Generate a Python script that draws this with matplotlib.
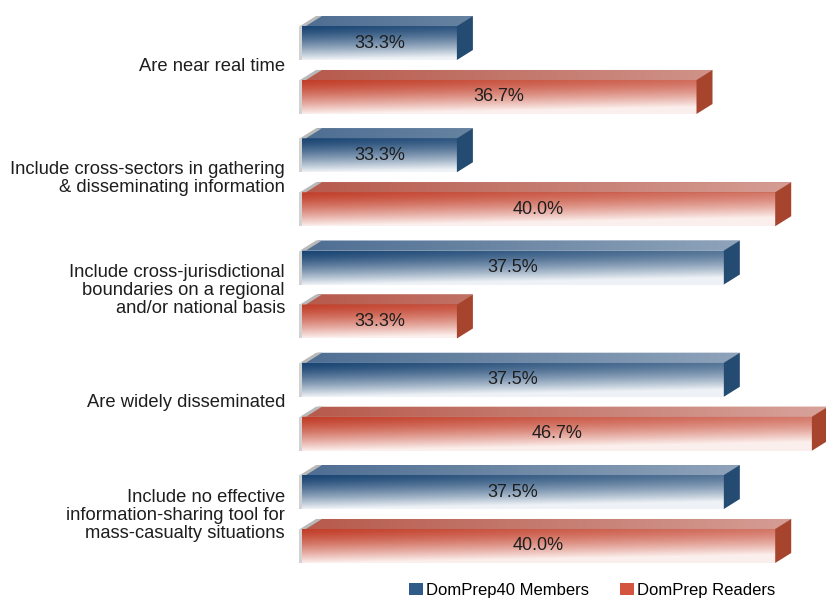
import numpy as np
import matplotlib
matplotlib.use("Agg")
import matplotlib.pyplot as plt
from matplotlib.patches import Polygon, Patch
from matplotlib.transforms import IdentityTransform
from matplotlib.colors import to_rgb

# ---------------- data ----------------
categories = [
    "Are near real time",
    "Include cross-sectors in gathering\n& disseminating information",
    "Include cross-jurisdictional\nboundaries on a regional\nand/or national basis",
    "Are widely disseminated",
    "Include no effective\ninformation-sharing tool for\nmass-casualty situations",
]
members = [33.3, 33.3, 37.5, 37.5, 37.5]
readers = [36.7, 40.0, 33.3, 46.7, 40.0]
series_names = ["DomPrep40 Members", "DomPrep Readers"]

# ---------------- style ----------------
plt.rcParams['font.family'] = ['Liberation Sans', 'DejaVu Sans']
W, H = 826, 598
fig = plt.figure(figsize=(W / 100, H / 100), dpi=100)

BLUE_DARK, BLUE_LIGHT = to_rgb('#1a4573'), to_rgb('#f3f6f9')
RED_DARK, RED_LIGHT = to_rgb('#c23f2a'), to_rgb('#fdf3f1')
BLUE_SIDE, RED_SIDE = '#244b72', '#a6442e'
BLUE_TOPF, RED_TOPF = to_rgb('#4e6e92'), to_rgb('#b65a4c')
TEXT_COL = '#1e1e1e'

# saturating value scale (the source chart's bar lengths are non-linear)
C, TAU = 33.3, 3.1
def fwd(v):
    return -np.exp(-(np.asarray(v, dtype=float) - C) / TAU)
def inv(t):
    return C - TAU * np.log(np.maximum(-np.asarray(t, dtype=float), 1e-12))

ax = fig.add_axes([302 / W, 28 / H, 513 / W, 570 / H])
ax.set_xscale('function', functions=(fwd, inv))
XMIN, XMAX = 32.19, 50.0
ax.set_xlim(XMIN, XMAX)
GROUP = 2.08
ax.set_ylim(9.765, -0.797)
ax.axis('off')

BAR_H = 0.63
DX, DY = 16, 10
ID = IdentityTransform()


def grad_img(dark, light, xl, xr, nrow, base, vk, uk, x_ref, vpow=1.0):
    ncol = max(int(xr - xl), 2)
    u = (np.linspace(xl, xr, ncol) - x_ref) / 500.0
    v = np.linspace(0, 1, nrow) ** vpow
    w = np.clip(base + vk * v[:, None] + uk * u[None, :], 0, 0.98)
    dark = np.array(dark)
    light = np.array(light)
    return dark[None, None, :] * (1 - w[..., None]) + light[None, None, :] * w[..., None]


def draw_bar(y, value, dark, light, side, topf):
    top = y - BAR_H / 2
    rect = ax.barh(top, value - XMIN, left=XMIN, height=BAR_H, align='edge',
                   color=dark, linewidth=0, zorder=2)[0]
    (xl, yt), (xr, yb) = ax.transData.transform([(XMIN, top), (value, top + BAR_H)])
    # front gradient
    img = grad_img(dark, light, xl, xr, 60, 0.0, 0.97, 0.33, xl, vpow=1.35)
    im = ax.imshow(img, extent=[xl, xr, yb, yt], transform=ID, aspect='auto',
                   interpolation='bilinear', zorder=3)
    im.set_clip_path(rect)
    # top face
    tverts = [(xl, yt), (xl + DX, yt + DY), (xr + DX, yt + DY), (xr, yt)]
    tp = Polygon(tverts, closed=True, transform=ID, facecolor=topf, edgecolor='none',
                 clip_on=False, zorder=3)
    ax.add_patch(tp)
    timg = grad_img(topf, light, xl, xr + DX, 4, 0.0, 0.0, 0.45, xl)
    tim = ax.imshow(timg, extent=[xl, xr + DX, yt, yt + DY], transform=ID, aspect='auto',
                    interpolation='bilinear', zorder=3.5)
    tim.set_clip_box(fig.bbox)
    tim.set_clip_path(tp)
    # side face
    sverts = [(xr, yt), (xr + DX, yt + DY), (xr + DX, yb + DY), (xr, yb)]
    ax.add_patch(Polygon(sverts, closed=True, transform=ID, facecolor=side,
                         edgecolor='none', clip_on=False, zorder=4))
    # grey wall tab at the left end
    gverts = [(xl - 2, yt), (xl + DX - 2, yt + DY), (xl + DX + 4, yt + DY), (xl + 4, yt)]
    ax.add_patch(Polygon(gverts, closed=True, transform=ID, facecolor='#b9b9b9',
                         edgecolor='none', clip_on=False, zorder=5))
    ax.add_patch(Polygon([(xl - 3, yb), (xl, yb), (xl, yt), (xl - 3, yt)], closed=True,
                         transform=ID, facecolor='#d2d2d2', edgecolor='none',
                         clip_on=False, zorder=5))
    # value label centred on the front face
    xmid = ax.transData.inverted().transform(((xl + xr) / 2, 0))[0]
    ax.text(xmid, y, f"{value:.1f}%", ha='center', va='center', fontsize=13,
            color=TEXT_COL, zorder=6)


for g, (cat, m, r) in enumerate(zip(categories, members, readers)):
    yb_ = g * GROUP
    yr_ = g * GROUP + 1
    draw_bar(yb_, m, BLUE_DARK, BLUE_LIGHT, BLUE_SIDE, BLUE_TOPF)
    draw_bar(yr_, r, RED_DARK, RED_LIGHT, RED_SIDE, RED_TOPF)
    ax.text(-17 / 513, g * GROUP + 0.43, cat, transform=ax.get_yaxis_transform(),
            ha='right', va='center', fontsize=13.2, color=TEXT_COL, linespacing=1.08)

handles = [Patch(facecolor='#2f5b88'), Patch(facecolor='#d4553f')]
fig.legend(handles, series_names, loc='lower left', bbox_to_anchor=(409 / W, 0.0),
           ncol=2, frameon=False, fontsize=12, handlelength=0.85, handleheight=0.75,
           handletextpad=0.15, columnspacing=1.9, borderpad=0, borderaxespad=0)

fig.savefig('out.png', dpi=100)
